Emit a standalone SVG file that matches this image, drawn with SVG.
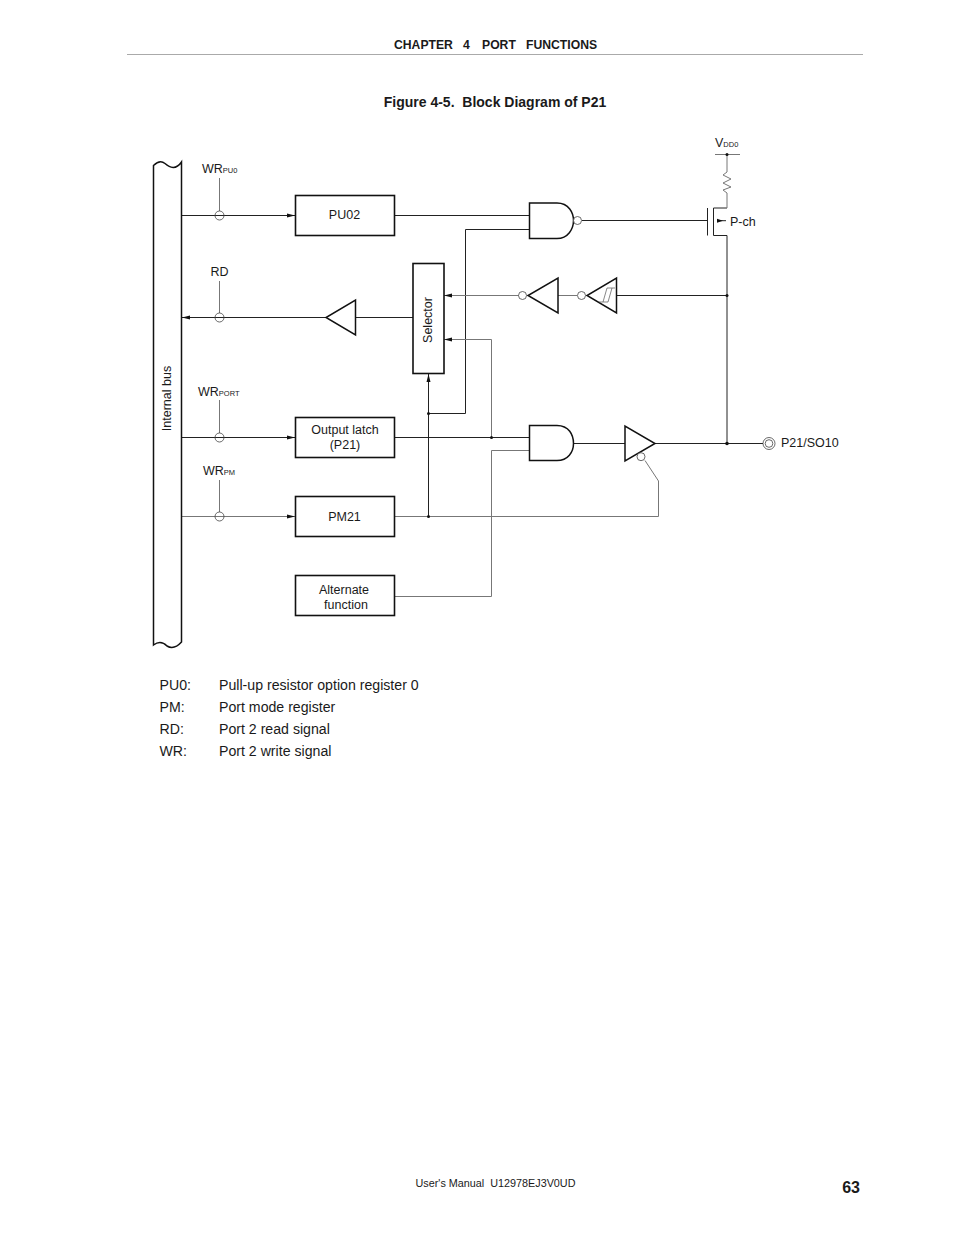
<svg xmlns="http://www.w3.org/2000/svg" width="954" height="1235" viewBox="0 0 954 1235">
<defs>
<marker id="ah" markerUnits="userSpaceOnUse" markerWidth="9" markerHeight="6" refX="8" refY="3" orient="auto"><path d="M0 1L8 3L0 5Z" fill="#111"/></marker>
</defs>
<style>
text{font-family:"Liberation Sans",Arial,sans-serif;fill:#1a1a1a}
.t{font-size:12.5px}
.s{font-size:7.5px}
.l{font-size:14.15px}
.b{font-weight:bold;font-size:12.2px}
.box{fill:#fff;stroke:#111;stroke-width:1.6}
.g{fill:#fff;stroke:#111;stroke-width:1.5}
.w{fill:none;stroke:#222;stroke-width:1}
.lw{fill:none;stroke:#777;stroke-width:1}
.c{fill:none;stroke:#444;stroke-width:.8}
.cw{fill:#fff;stroke:#444;stroke-width:.8}
.d{fill:#111}
</style>
<rect width="954" height="1235" fill="#fff"/>
<path d="M127 54.500H863" stroke="#aaa" stroke-width="1"/>
<text y="49" class="b"><tspan x="394">CHAPTER</tspan><tspan x="463">4</tspan><tspan x="482">PORT</tspan><tspan x="526">FUNCTIONS</tspan></text>
<text x="495" y="107" text-anchor="middle" class="b" style="font-size:14px" xml:space="preserve">Figure 4-5.  Block Diagram of P21</text>

<g id="connectors">
<path class="w" d="M182 215.500H295" marker-end="url(#ah)"/>
<path class="w" d="M395 215.500H529"/>
<path class="w" d="M413 317.500H182" marker-end="url(#ah)"/>
<path class="w" d="M182 437.500H295" marker-end="url(#ah)"/>
<path class="lw" d="M182 516.500H295" marker-end="url(#ah)"/>
<path class="lw" d="M219.500 178V211M219.500 281V313M219.500 400V433M219.500 480V512"/>
<path class="w" d="M529 229.500H465.500V413.500H428.500"/>
<path class="w" d="M428.500 516.500V374" marker-end="url(#ah)"/>
<path class="lw" d="M395 516.500H658.500V481L645 460.500"/>
<path class="w" d="M395 437.500H529"/>
<path class="lw" d="M491.500 437.500V339.500H444" marker-end="url(#ah)"/>
<path class="lw" d="M395 596.500H491.500V450.500H529"/>
<path class="w" d="M574 443.500H625M655 443.500H763"/>
<path class="w" d="M727 443.500V235.500H713.500V208H727"/>
<path class="lw" d="M727 154.500V172L723 175L731 179L723 183L731 187L723 190L727 193V208"/>
<path class="w" d="M582 220.500H707.500"/>
<path class="w" d="M707.500 208V235.500"/>
<path class="w" d="M717 220.700H726"/>
<path d="M723 220.700L717 218.700V222.700Z" fill="#111"/>
<path class="lw" d="M715 154.500H740"/>
<path class="lw" d="M519 295.500H444" marker-end="url(#ah)"/>
<path class="w" d="M617 295.500H727"/>
<path class="lw" d="M558 295.500H577"/>
</g>

<g id="internal-bus"><path d="M153.500 165.500C158 161 162 161 165 163.500C170 168 176 170 181.500 162V642C177 647 172 649 167 646C163 642 159 641 153.500 645Z" fill="#fff" stroke="#111" stroke-width="1.500"/>
<text transform="translate(170.500 398.500) rotate(-90)" text-anchor="middle" class="t">Internal bus</text></g>

<g id="sw-pu"><circle class="c" cx="219.500" cy="215.500" r="4.500"/><text x="202" y="173" class="t">WR<tspan class="s">PU0</tspan></text></g>
<g id="sw-rd"><circle class="c" cx="219.500" cy="317.500" r="4.500"/><text x="219.500" y="276" text-anchor="middle" class="t">RD</text></g>
<g id="sw-port"><circle class="c" cx="219.500" cy="437.500" r="4.500"/><text x="198" y="396" class="t">WR<tspan class="s">PORT</tspan></text></g>
<g id="sw-pm"><circle class="c" cx="219.500" cy="516.500" r="4.500"/><text x="203" y="475" class="t">WR<tspan class="s">PM</tspan></text></g>

<g id="pu02"><rect class="box" x="295.500" y="195.500" width="99" height="40"/><text x="344.500" y="219" text-anchor="middle" class="t">PU02</text></g>
<g id="output-latch"><rect class="box" x="295.500" y="417.500" width="99" height="40"/><text x="345" y="434" text-anchor="middle" class="t">Output latch</text><text x="345" y="449" text-anchor="middle" class="t">(P21)</text></g>
<g id="pm21"><rect class="box" x="295.500" y="496.500" width="99" height="40"/><text x="344.500" y="521" text-anchor="middle" class="t">PM21</text></g>
<g id="alternate"><rect class="box" x="295.500" y="575.500" width="99" height="40"/><text x="344" y="594" text-anchor="middle" class="t">Alternate</text><text x="346" y="609" text-anchor="middle" class="t">function</text></g>
<g id="selector"><rect class="box" x="413" y="263.500" width="31" height="110" stroke-width="2"/><text transform="translate(432 320) rotate(-90)" text-anchor="middle" class="t">Selector</text></g>

<g id="nand"><path class="g" d="M529.500 203H557C569 203 573.500 213 573.500 220.500C573.500 229 568 238.500 557 238.500H529.500Z"/><circle class="cw" cx="577.500" cy="220.500" r="4"/></g>
<g id="and"><path class="g" d="M529.500 425.500H557C569 425.500 573.500 435 573.500 443.500C573.500 452 568 460.500 557 460.500H529.500Z"/></g>
<g id="buf-rd"><path class="g" d="M355.500 300V335L326 317.500Z"/></g>
<g id="inv-1"><path class="g" d="M558 278V313L528 295.500Z"/><circle class="cw" cx="522.500" cy="295.500" r="4"/></g>
<g id="inv-st"><path class="g" d="M616.500 278V313L587 295.500Z"/><circle class="cw" cx="581.500" cy="295.500" r="4"/><path d="M603 302L607 288H615M612 288L608 302H599" fill="none" stroke="#555" stroke-width=".7"/></g>
<g id="tri-buf"><path class="g" d="M625 426V461L655 443.500Z"/><circle class="cw" cx="641" cy="456.700" r="4"/></g>

<g id="dots">
<circle class="d" cx="727" cy="154.500" r="1.500"/><circle class="d" cx="727" cy="295.500" r="1.500"/><circle class="d" cx="727" cy="443.500" r="1.800"/><circle class="d" cx="491.500" cy="437.500" r="1.500"/><circle class="d" cx="428.500" cy="413.500" r="1.500"/><circle class="d" cx="428.500" cy="516.500" r="1.500"/>
</g>
<g id="pin"><circle cx="769" cy="443.500" r="6" fill="#fff" stroke="#444" stroke-width=".8"/><circle cx="769" cy="443.500" r="3.800" fill="#fff" stroke="#444" stroke-width=".8"/><text x="781" y="447" class="t">P21/SO10</text></g>
<text x="715" y="147" class="t">V<tspan class="s">DD0</tspan></text>
<text x="730" y="226" class="t">P-ch</text>

<g id="legend">
<text x="159.500" y="690" class="l">PU0:</text><text x="219" y="690" class="l">Pull-up resistor option register 0</text>
<text x="159.500" y="712" class="l">PM:</text><text x="219" y="712" class="l">Port mode register</text>
<text x="159.500" y="734" class="l">RD:</text><text x="219" y="734" class="l">Port 2 read signal</text>
<text x="159.500" y="756" class="l">WR:</text><text x="219" y="756" class="l">Port 2 write signal</text>
</g>
<text x="495.500" y="1187" text-anchor="middle" style="font-size:10.800px" xml:space="preserve">User's Manual  U12978EJ3V0UD</text>
<text x="860" y="1193" text-anchor="end" style="font-size:16px;font-weight:bold">63</text>
</svg>
